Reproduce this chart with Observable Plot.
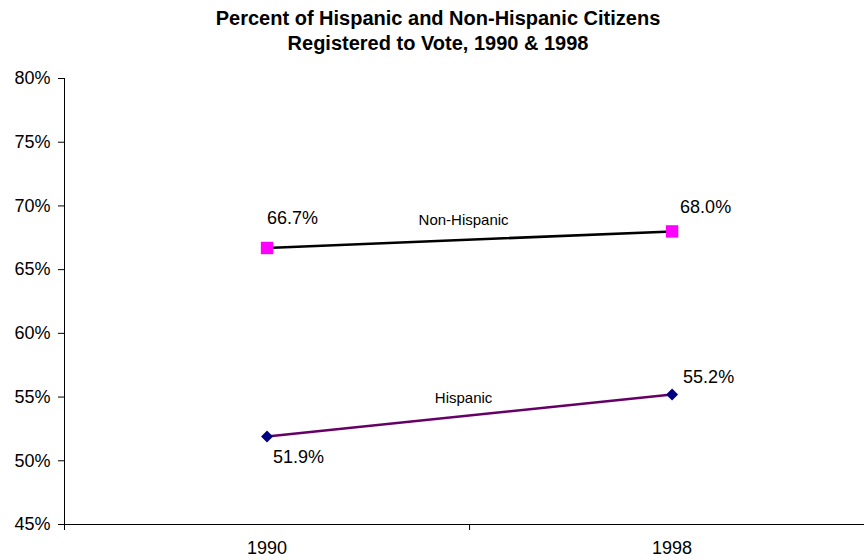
<!DOCTYPE html>
<html>
<head>
<meta charset="utf-8">
<script src="https://cdn.jsdelivr.net/npm/d3@7"></script>
<script src="https://cdn.jsdelivr.net/npm/@observablehq/plot@0.6"></script>
<style>
  body { margin: 0; background: #fff; }
  #title { font: bold 20px "Liberation Sans", Arial, sans-serif; text-align: center; width: 864px; padding-left: 12px; box-sizing: border-box; line-height: 25px; height: 60px; padding-top: 6px; color: #000; }
</style>
</head>
<body>
<div id="title">Percent of Hispanic and Non-Hispanic Citizens<br>Registered to Vote, 1990 &amp; 1998</div>
<div id="chart"></div>
<script>
const years = ["1990", "1998"];
const seriesNames = ["Non-Hispanic", "Hispanic"];
const nonHispanic = [66.7, 68.0];
const hispanic = [51.9, 55.2];
const yTicks = [45, 50, 55, 60, 65, 70, 75, 80];

const rows = [];
years.forEach((yr, i) => {
  rows.push({year: yr, xi: i + 0.5, value: nonHispanic[i], series: seriesNames[0]});
  rows.push({year: yr, xi: i + 0.5, value: hispanic[i], series: seriesNames[1]});
});
const nonRows = rows.filter(d => d.series === seriesNames[0]);
const hisRows = rows.filter(d => d.series === seriesNames[1]);

// label placement (layout only)
const valueOffsets = {
  "Non-Hispanic|1990": [0, -30],
  "Non-Hispanic|1998": [8, -24],
  "Hispanic|1990": [6, 21],
  "Hispanic|1998": [11, -17]
};
const seriesLabelDy = {"Non-Hispanic": -20, "Hispanic": -17};

const valueLabels = rows.map(d => {
  const [dx, dy] = valueOffsets[d.series + "|" + d.year];
  return Plot.text([d], {x: "xi", y: "value", text: d => d.value.toFixed(1) + "%", dx, dy, textAnchor: "start", fontSize: 18, fill: "#000"});
});

const seriesLabels = seriesNames.map((name, k) => {
  const vals = k === 0 ? nonHispanic : hispanic;
  const mid = {xi: 1, value: d3.mean(vals), name};
  return Plot.text([mid], {x: "xi", y: "value", text: "name", dx: -6, dy: seriesLabelDy[name], fontSize: 15, fill: "#000"});
});

const chart = Plot.plot({
  width: 864,
  height: 500,
  marginTop: 18,
  marginBottom: 36,
  marginLeft: 64,
  marginRight: 0,
  style: {fontFamily: "'Liberation Sans', Arial, sans-serif", color: "#000", background: "#fff", overflow: "visible"},
  x: {domain: [0, 1.975], axis: null},
  y: {domain: [45, 80], axis: null},
  marks: [
    Plot.ruleY([45], {stroke: "#000", strokeWidth: 1}),
    Plot.ruleX([0], {stroke: "#000", strokeWidth: 1}),
    Plot.axisY({ticks: yTicks, tickSize: 6, tickPadding: 8, tickFormat: d => d + "%", fontSize: 18, stroke: "#000", strokeOpacity: 1, label: null}),
    Plot.axisX({ticks: [0, 1], tickSize: 6, tickFormat: () => "", stroke: "#000", strokeOpacity: 1, label: null}),
    Plot.axisX({ticks: years.map((y, i) => i + 0.5), tickSize: 0, tickPadding: 17, tickFormat: d => years[Math.round(d - 0.5)], fontSize: 18, label: null}),
    Plot.line(nonRows, {x: "xi", y: "value", stroke: "#000", strokeWidth: 2.5}),
    Plot.line(hisRows, {x: "xi", y: "value", stroke: "#660066", strokeWidth: 2.5}),
    Plot.dot(nonRows, {x: "xi", y: "value", symbol: "square", r: 7, fill: "#FF00FF", stroke: "none"}),
    Plot.dot(hisRows, {x: "xi", y: "value", symbol: "diamond2", r: 5.4, fill: "#000080", stroke: "none"}),
    ...valueLabels,
    ...seriesLabels
  ]
});
document.getElementById("chart").appendChild(chart);
</script>
</body>
</html>
